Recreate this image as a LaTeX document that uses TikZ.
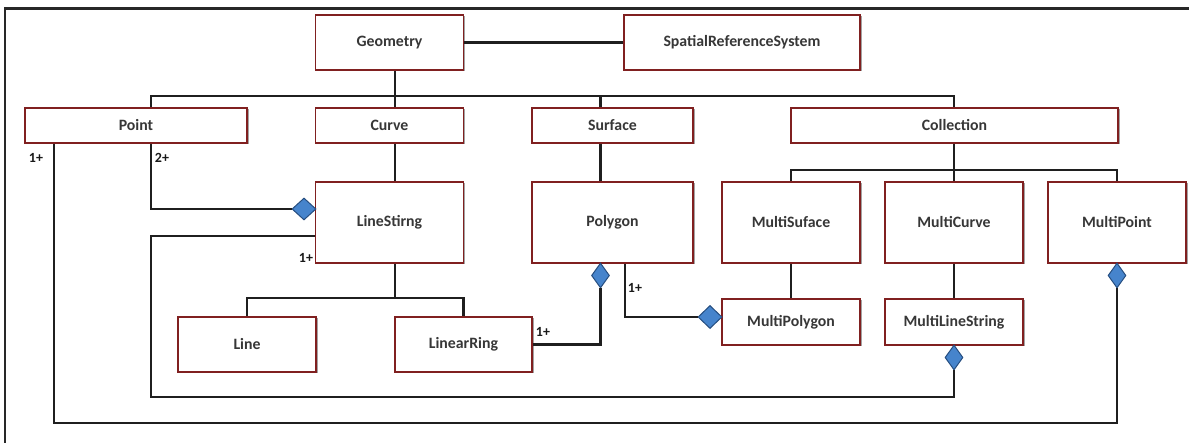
\documentclass[tikz,border=0pt]{standalone}
\usepackage{fontspec}
\setmainfont{Carlito}
\usetikzlibrary{shapes.geometric,shadows}
\definecolor{boxred}{RGB}{128,32,32}
\definecolor{diafill}{RGB}{70,132,204}
\definecolor{diadraw}{RGB}{38,78,128}
\definecolor{txt}{RGB}{55,55,55}
\definecolor{framec}{RGB}{40,40,40}
\begin{document}
\begin{tikzpicture}[x=1pt,y=-1pt,
  box/.style={draw=boxred, line width=1.6pt, fill=white, inner sep=0pt,
    font=\fontsize{15.8}{18}\selectfont\bfseries, text=txt,
    drop shadow={shadow xshift=1.5pt, shadow yshift=-1.5pt, fill=black!45, opacity=0.8}},
  con/.style={line width=2.2pt, draw=black!88},
  dia/.style={diamond, draw=diadraw, fill=diafill, line width=1pt, inner sep=0pt},
  lab/.style={font=\fontsize{14}{16}\selectfont\bfseries, text=black!90, inner sep=0pt},
  framel/.style={line width=2.2pt, draw=framec}]
\useasboundingbox (0,0) rectangle (1189,443);
% frame (top and left edges only)
\coordinate (fbl) at (5,443);
\coordinate (ftl) at (5,8.5);
\coordinate (ftr) at (1189,8.5);
\draw[framel] (fbl) -- (ftl) -- (ftr);

% boxes
\node[box, minimum width=148pt, minimum height=55pt] (geo) at (389.5,42.5) {Geometry};
\node[box, minimum width=236pt, minimum height=55pt] (srs) at (742,42.5) {SpatialReferenceSystem};
\node[box, minimum width=222pt, minimum height=35pt] (point) at (136,125.5) {Point};
\node[box, minimum width=148pt, minimum height=35pt] (curve) at (389.5,125.5) {Curve};
\node[box, minimum width=161pt, minimum height=35pt] (surface) at (612.5,125.5) {Surface};
\node[box, minimum width=327pt, minimum height=35pt] (collection) at (954.5,125.5) {Collection};
\node[box, minimum width=148pt, minimum height=81pt] (linestring) at (389.5,222.5) {LineStirng};
\node[box, minimum width=161pt, minimum height=81pt] (polygon) at (612.5,222.5) {Polygon};
\node[box, minimum width=138pt, minimum height=81pt] (multisurface) at (791,222.5) {MultiSuface};
\node[box, minimum width=138pt, minimum height=81pt] (multicurve) at (954,222.5) {MultiCurve};
\node[box, minimum width=138pt, minimum height=81pt] (multipoint) at (1117,222.5) {MultiPoint};
\node[box, minimum width=138pt, minimum height=55pt] (line) at (247,344.5) {Line};
\node[box, minimum width=137pt, minimum height=55pt] (linearring) at (463.5,344.5) {LinearRing};
\node[box, minimum width=138pt, minimum height=46pt] (multipolygon) at (791,322) {MultiPolygon};
\node[box, minimum width=138pt, minimum height=46pt] (multilinestring) at (954,322) {MultiLineString};

% diamonds
\node[dia, minimum width=24pt, minimum height=22pt] (d1) at (304,209) {};
\node[dia, minimum width=18pt, minimum height=25pt] (d2) at (600.5,275.5) {};
\node[dia, minimum width=24pt, minimum height=23pt] (d3) at (710,317) {};
\node[dia, minimum width=18pt, minimum height=25pt] (d4) at (954,357.5) {};
\node[dia, minimum width=18pt, minimum height=25pt] (d5) at (1117,275.5) {};

% guide coordinates
\coordinate (xA) at (54,0);
\coordinate (xB) at (151,0);
\coordinate (xC) at (395,0);
\coordinate (xD) at (600.5,0);
\coordinate (xE) at (625,0);
\coordinate (xG) at (954,0);
\coordinate (yb) at (0,96);
\coordinate (ys) at (0,170);
\coordinate (yl1) at (0,236);
\coordinate (l1a) at (151,397);
\coordinate (l2a) at (54,423);
\coordinate (lsb) at (395,298);

% connectors
\draw[con] (geo.east) -- (srs.west);
\draw[con] (geo.south -| xC) -- (curve.north -| xC);
\draw[con] (point.north -| xB) -- (yb -| xB) -- (yb -| xG) -- (collection.north -| xG);
\draw[con] (yb -| xD) -- (surface.north -| xD);
\draw[con] (curve.south -| xC) -- (linestring.north -| xC);
\draw[con] (surface.south -| xD) -- (polygon.north -| xD);
\draw[con] (collection.south -| xG) -- (multicurve.north -| xG);
\draw[con] (multisurface.north) -- (ys -| multisurface) -- (ys -| multipoint) -- (multipoint.north);
\draw[con] (linestring.south -| lsb) -- (lsb);
\draw[con] (line.north) |- (lsb) -| (linearring.north);
\draw[con] (multisurface.south) -- (multipolygon.north);
\draw[con] (multicurve.south) -- (multilinestring.north);
\draw[con] (point.south -| xB) |- (d1.west);
\draw[con] (linestring.west |- yl1) -| (l1a) -| (d4.south);
\draw[con] (point.south -| xA) -- (l2a) -| (d5.south);
\draw[con] (linearring.east) -| (d2.south);
\draw[con] (polygon.south -| xE) |- (d3.west);

% multiplicity labels
\node[lab] (m1) at (36,158) {1+};
\node[lab] (m2) at (162,158) {2+};
\node[lab] (m3) at (306,258) {1+};
\node[lab] (m4) at (543,332) {1+};
\node[lab] (m5) at (635,288) {1+};
\end{tikzpicture}
\end{document}
